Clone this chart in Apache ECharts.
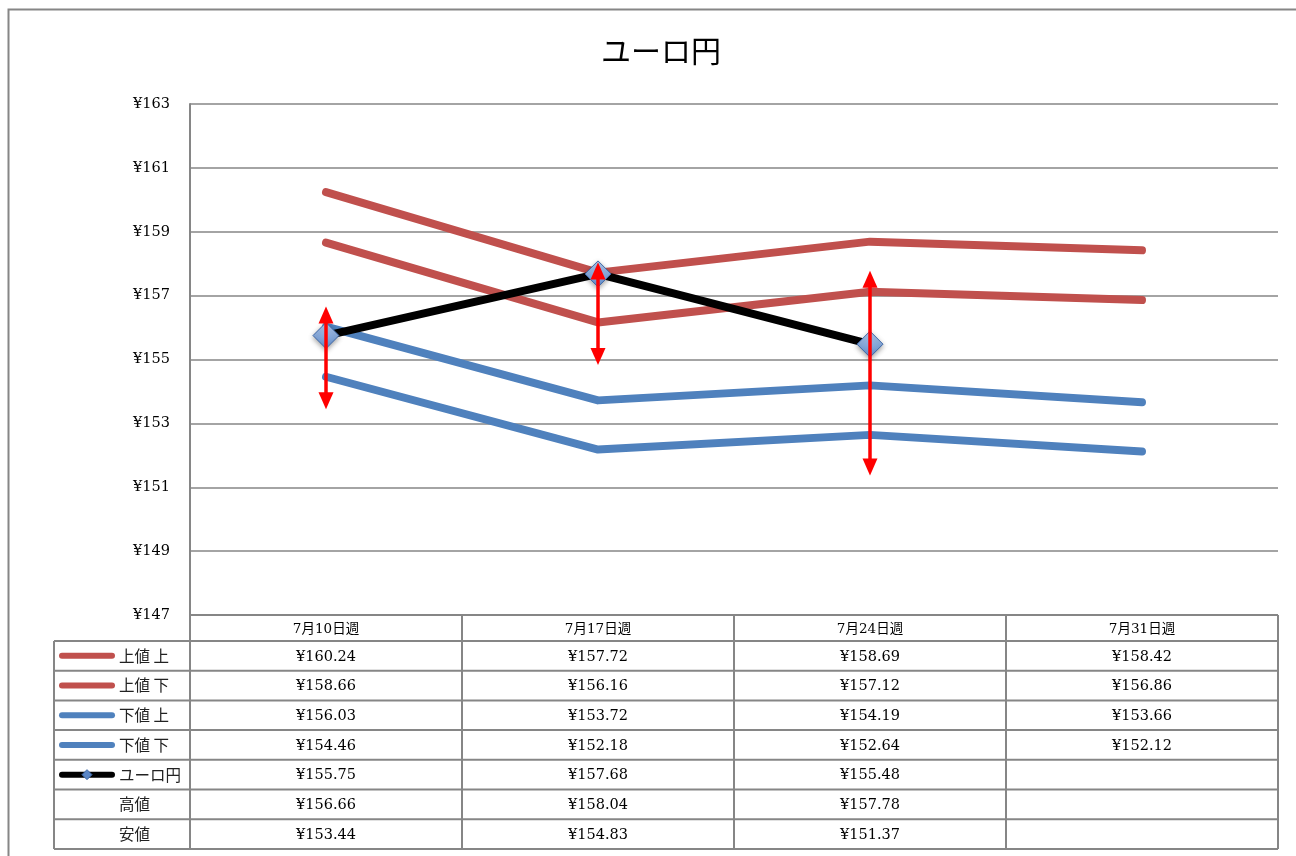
<!DOCTYPE html>
<html>
<head>
<meta charset="utf-8">
<script src="https://cdn.jsdelivr.net/npm/echarts@6/dist/echarts.min.js"></script>
<style>
  html, body { margin: 0; padding: 0; background: #fff; }
  #chart { width: 1296px; height: 856px; }
</style>
</head>
<body>
<div id="chart"></div>
<script>
// Weekly EUR/JPY forecast bands and actual rates
const categories = ['7月10日週', '7月17日週', '7月24日週', '7月31日週'];
const upperHigh = [160.24, 157.72, 158.69, 158.42];   // 上値 上
const upperLow  = [158.66, 156.16, 157.12, 156.86];   // 上値 下
const lowerHigh = [156.03, 153.72, 154.19, 153.66];   // 下値 上
const lowerLow  = [154.46, 152.18, 152.64, 152.12];   // 下値 下
const eurJpy    = [155.75, 157.68, 155.48, null];     // ユーロ円
const weekHigh  = [156.66, 158.04, 157.78, null];     // 高値
const weekLow   = [153.44, 154.83, 151.37, null];     // 安値
const yMin = 147, yMax = 163, yStep = 2;

const RED = '#C0504D', BLUE = '#4F81BD', BLACK = '#000000', ARROW = '#FF0000';
const GRID_COLOR = '#868686';
const SERIF = '"DejaVu Serif", "Liberation Serif", "Noto Sans CJK JP", serif';
const JP = '"Noto Sans CJK JP", sans-serif';

const chart = echarts.init(document.getElementById('chart'), null, { renderer: 'canvas' });

const diamondStyle = {
  color: new echarts.graphic.LinearGradient(0, 0, 0, 1, [
    { offset: 0, color: '#B3CBEE' },
    { offset: 1, color: '#5F8BCA' }
  ]),
  borderColor: '#3D68A8',
  borderWidth: 1,
  shadowColor: 'rgba(0,0,0,0.35)',
  shadowBlur: 5,
  shadowOffsetY: 2
};

function bandSeries(name, data, color) {
  return {
    name, type: 'line', data,
    symbol: 'none',
    lineStyle: { color, width: 8, cap: 'round', join: 'round' },
    z: 2, silent: true
  };
}

const option = {
  animation: false,
  backgroundColor: '#fff',
  title: {
    text: 'ユーロ円',
    left: 596, top: 31,
    textStyle: { fontFamily: '"Noto Sans CJK JP", serif', fontSize: 30, fontWeight: 'normal', color: '#000' }
  },
  grid: { left: 190, right: 18, top: 104, bottom: 241 },
  xAxis: {
    type: 'category', data: categories, boundaryGap: true,
    axisLine: { show: false }, axisTick: { show: false }, axisLabel: { show: false }
  },
  yAxis: {
    type: 'value', min: yMin, max: yMax, interval: yStep,
    axisLine: { show: true, lineStyle: { color: GRID_COLOR, width: 2 } },
    axisTick: { show: false },
    splitLine: { lineStyle: { color: GRID_COLOR, width: 1.5 } },
    axisLabel: {
      margin: 20, color: '#000', fontFamily: SERIF, fontSize: 14.5,
      formatter: v => '¥' + v
    }
  },
  series: [
    bandSeries('上値 上', upperHigh, RED),
    bandSeries('上値 下', upperLow, RED),
    bandSeries('下値 上', lowerHigh, BLUE),
    bandSeries('下値 下', lowerLow, BLUE),
    {
      name: 'ユーロ円', type: 'line', data: eurJpy,
      symbol: 'diamond', symbolSize: 26, showSymbol: true,
      lineStyle: { color: BLACK, width: 8, cap: 'round' },
      itemStyle: diamondStyle,
      z: 3, silent: true
    },
    {
      // high / low range of each week as a double-headed arrow
      name: '高値安値', type: 'custom',
      data: categories.map((c, i) => [i, weekHigh[i], weekLow[i]]).filter(d => d[1] != null),
      encode: { x: 0, y: [1, 2] },
      z: 5, silent: true,
      renderItem(params, api) {
        const top = api.coord([api.value(0), api.value(1)]);
        const bot = api.coord([api.value(0), api.value(2)]);
        const hw = 7.5, hl = 17, x = top[0];
        return {
          type: 'group',
          children: [
            { type: 'line', shape: { x1: x, y1: top[1] + hl - 2, x2: x, y2: bot[1] - hl + 2 },
              style: { stroke: ARROW, lineWidth: 3.5 } },
            { type: 'polygon', shape: { points: [[x, top[1]], [x - hw, top[1] + hl], [x + hw, top[1] + hl]] },
              style: { fill: ARROW } },
            { type: 'polygon', shape: { points: [[x, bot[1]], [x - hw, bot[1] - hl], [x + hw, bot[1] - hl]] },
              style: { fill: ARROW } }
          ]
        };
      }
    }
  ]
};
chart.setOption(option);

// Data table under the plot, aligned to the category columns
(function drawTable() {
  const c0 = chart.convertToPixel({ xAxisIndex: 0 }, 0);
  const c1 = chart.convertToPixel({ xAxisIndex: 0 }, 1);
  const colW = c1 - c0;
  const left = c0 - colW / 2;
  const right = left + colW * categories.length;
  const top = chart.convertToPixel({ yAxisIndex: 0 }, yMin);
  const headH = 26, rowH = 29.7;
  const keyLeft = 54;
  const rows = [
    { label: '上値 上', values: upperHigh, key: RED },
    { label: '上値 下', values: upperLow, key: RED },
    { label: '下値 上', values: lowerHigh, key: BLUE },
    { label: '下値 下', values: lowerLow, key: BLUE },
    { label: 'ユーロ円', values: eurJpy, key: BLACK, marker: true },
    { label: '高値', values: weekHigh },
    { label: '安値', values: weekLow }
  ];
  const bottom = top + headH + rowH * rows.length;
  const stroke = { stroke: GRID_COLOR, lineWidth: 2 };
  const els = [];
  const hline = (x1, x2, y) => els.push({ type: 'line', silent: true, shape: { x1, y1: y, x2, y2: y }, style: stroke });
  const vline = (x, y1, y2) => els.push({ type: 'line', silent: true, shape: { x1: x, y1, x2: x, y2 }, style: stroke });

  // header row
  hline(left, right, top);
  categories.forEach((c, i) => {
    els.push({ type: 'text', silent: true, x: left + colW * (i + 0.5), y: top + headH / 2 + 1,
      style: { text: c, fill: '#000', font: '13.5px ' + SERIF, align: 'center', verticalAlign: 'middle' } });
  });
  // grid lines
  for (let r = 0; r <= rows.length; r++) hline(keyLeft, right, top + headH + rowH * r);
  vline(keyLeft, top + headH, bottom);
  for (let i = 0; i <= categories.length; i++) vline(left + colW * i, top, bottom);

  rows.forEach((row, r) => {
    const cy = top + headH + rowH * (r + 0.5);
    if (row.key) {
      els.push({ type: 'line', silent: true, shape: { x1: 62, y1: cy, x2: 112, y2: cy },
        style: { stroke: row.key, lineWidth: 6, lineCap: 'round' } });
      if (row.marker) {
        els.push({ type: 'polygon', silent: true,
          shape: { points: [[87, cy - 5], [92, cy], [87, cy + 5], [82, cy]] },
          style: { fill: '#5A86C6', stroke: '#3D68A8', lineWidth: 1 } });
      }
    }
    els.push({ type: 'text', silent: true, x: 119, y: cy,
      style: { text: row.label, fill: '#222', font: '15.5px ' + JP, align: 'left', verticalAlign: 'middle' } });
    row.values.forEach((v, i) => {
      if (v == null) return;
      els.push({ type: 'text', silent: true, x: left + colW * (i + 0.5), y: cy + 1,
        style: { text: '¥' + v.toFixed(2), fill: '#000', font: '14.5px ' + SERIF, align: 'center', verticalAlign: 'middle' } });
    });
  });

  // outer frame of the chart area
  els.push({ type: 'rect', silent: true, shape: { x: 8.5, y: 9.5, width: 1300, height: 860 },
    style: { fill: 'none', stroke: GRID_COLOR, lineWidth: 2 } });

  chart.setOption({ graphic: { elements: els } });
})();
</script>
</body>
</html>
